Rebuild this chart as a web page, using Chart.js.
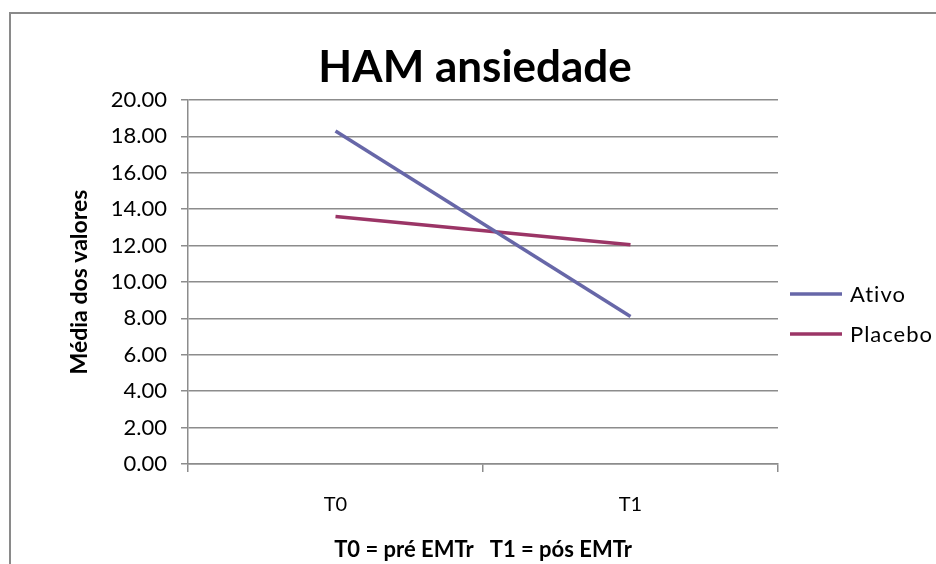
<!DOCTYPE html>
<html>
<head>
<meta charset="utf-8">
<script src="https://cdn.jsdelivr.net/npm/chart.js@4/dist/chart.umd.min.js"></script>
<style>
  html, body { margin: 0; padding: 0; background: #fff; }
  #wrap { width: 936px; height: 564px; }
</style>
</head>
<body>
<div id="wrap"><canvas id="c" width="936" height="564"></canvas></div>
<script>
// Categories and series
const categories = ['T0', 'T1'];
const ativo = [18.3, 8.1];
const placebo = [13.6, 12.05];
const seriesNames = ['Ativo', 'Placebo'];
const seriesColors = ['#6767a8', '#9b3566'];

const chartTitle = 'HAM ansiedade';
const yTitle = 'Média dos valores';
const xTitle = 'T0 = pré EMTr   T1 = pós EMTr';

const FONT = 'Lato, "Open Sans", "Liberation Sans", sans-serif';
const GRID = '#8c8c8c';

// Outer frame, big title and the legend on the right
const decorations = {
  id: 'decorations',
  beforeDraw(chart) {
    const ctx = chart.ctx;
    ctx.save();
    ctx.strokeStyle = '#8a8a8a';
    ctx.lineWidth = 2;
    ctx.strokeRect(10, 13, 1000, 1000);
    ctx.restore();
  },
  afterDraw(chart) {
    const ctx = chart.ctx;
    ctx.save();
    ctx.fillStyle = '#000';
    ctx.font = 'bold 44px ' + FONT;
    ctx.textAlign = 'center';
    ctx.textBaseline = 'middle';
    ctx.fillText(chartTitle, 475, 68);

    ctx.font = '22px ' + FONT;
    ctx.textAlign = 'left';
    ctx.letterSpacing = '1px';
    chart.data.datasets.forEach((ds, i) => {
      const y = 294 + i * 40;
      ctx.strokeStyle = ds.borderColor;
      ctx.lineWidth = 3.5;
      ctx.beginPath();
      ctx.moveTo(790, y);
      ctx.lineTo(842, y);
      ctx.stroke();
      ctx.fillStyle = '#000';
      ctx.fillText(ds.label, 850, y + 1);
    });
    ctx.restore();
  }
};

new Chart(document.getElementById('c'), {
  type: 'line',
  data: {
    labels: categories,
    datasets: [
      { label: seriesNames[0], data: ativo, borderColor: seriesColors[0], backgroundColor: seriesColors[0] },
      { label: seriesNames[1], data: placebo, borderColor: seriesColors[1], backgroundColor: seriesColors[1] }
    ]
  },
  options: {
    responsive: false,
    animation: false,
    layout: { padding: { left: 0, top: 100, right: 158, bottom: 0 } },
    elements: {
      line: { borderWidth: 3.5, tension: 0 },
      point: { radius: 0, hoverRadius: 0 }
    },
    plugins: {
      legend: { display: false },
      title: { display: false },
      tooltip: { enabled: false }
    },
    scales: {
      x: {
        offset: true,
        grid: { offset: true, drawOnChartArea: false, drawTicks: true, tickLength: 8, color: GRID, lineWidth: 1.5 },
        border: { color: GRID, width: 1.5 },
        ticks: { color: '#000', font: { family: FONT, size: 20 }, padding: 21 },
        title: { display: true, text: xTitle, color: '#000', font: { family: FONT, size: 22, weight: 'bold' }, padding: { top: 0, bottom: 1 } },
        afterFit(scale) { scale.height = 100; }
      },
      y: {
        min: 0,
        max: 20,
        ticks: {
          stepSize: 2,
          color: '#000',
          font: { family: FONT, size: 22 },
          padding: 14,
          callback: v => Number(v).toFixed(2)
        },
        grid: { color: GRID, lineWidth: 1.5, tickLength: 7 },
        border: { color: GRID, width: 1.5 },
        title: { display: true, text: yTitle, color: '#000', font: { family: FONT, size: 23, weight: 'bold' }, padding: { top: 66, bottom: 0 } },
        afterFit(scale) { scale.width = 188; }
      }
    }
  },
  plugins: [decorations]
});
</script>
</body>
</html>
